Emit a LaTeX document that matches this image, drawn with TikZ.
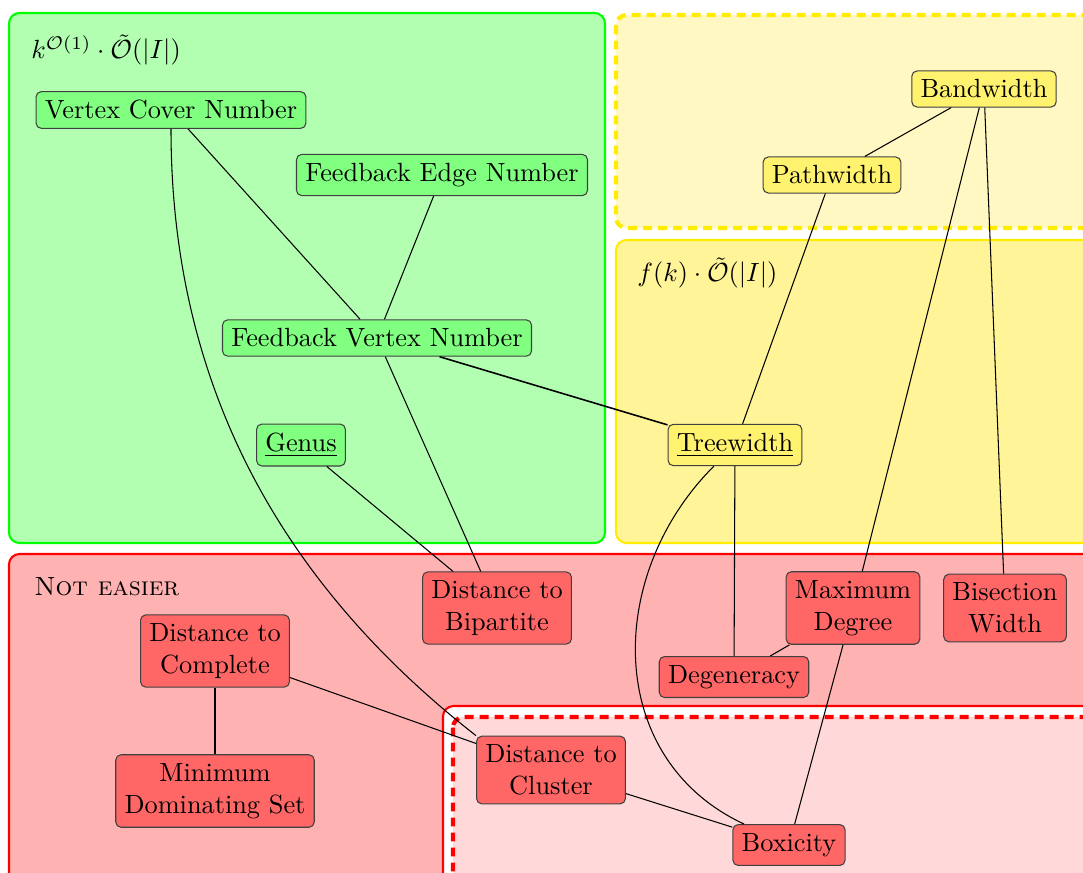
\documentclass[tikz,border=0pt]{standalone}
\usepackage{amsmath}
\usepackage{amssymb}
\usepackage{tikz}

\definecolor{ylwborder}{RGB}{255,236,0}
\definecolor{ylwfill}{RGB}{255,245,152}
\definecolor{ylwlight}{RGB}{255,248,194}
\definecolor{ylwnode}{RGB}{255,242,110}

\tikzset{
	param/.style = {draw=black!75, rounded corners=2pt, align=center},
	easy/.style = {param, fill=green!50},
	medium/.style = {param, fill=ylwnode},
	hard/.style = {param, fill=red!60},
	region/.style = {rounded corners=4pt, thick},
	dashregion/.style = {region, ultra thick, dash pattern=on 3.4pt off 2.3pt}
}

\begin{document}
\begin{tikzpicture}[x=0.38pt, y=-0.38pt]
	\clip (0,0) rectangle (1083,872);
	\draw[region, draw=green, fill=green!30] (9,13) rectangle (605,543);
	\draw[dashregion, draw=ylwborder, fill=ylwlight] (616,15) rectangle (1110,228);
	\draw[region, draw=ylwborder, fill=ylwfill] (616,240) rectangle (1110,543);
	\draw[region, draw=red, fill=red!30] (9,554) rectangle (1110,900);
	\draw[region, draw=red, fill=white] (443,706) rectangle (1110,900);
	\draw[dashregion, draw=red, fill=red!15] (453,717) rectangle (1110,900);

	\node[anchor=west] (lblpoly) at (22,50) {$k^{\mathcal{O}(1)} \cdot \tilde{\mathcal{O}}(|I|)$};
	\node[anchor=west] (lblfpt) at (628,273) {$f(k) \cdot \tilde{\mathcal{O}}(|I|)$};
	\node[anchor=west] (lblhard) at (25,587) {\textsc{Not easier}};

	\node[easy] (vcn) at (171,110) {Vertex Cover Number};
	\node[easy] (fen) at (442,175) {Feedback Edge Number};
	\node[easy] (fvn) at (377,338) {Feedback Vertex Number};
	\node[easy] (genus) at (301,445) {\underline{Genus}};
	\node[medium] (bw) at (984,89) {Bandwidth};
	\node[medium] (pw) at (832,175) {Pathwidth};
	\node[medium] (tw) at (735,445) {\underline{Treewidth}};
	\node[hard] (dbip) at (497,608) {Distance to\\Bipartite};
	\node[hard] (dcom) at (215,651) {Distance to\\Complete};
	\node[hard] (mds) at (215,791) {Minimum\\Dominating Set};
	\node[hard] (maxdeg) at (853,608) {Maximum\\Degree};
	\node[hard] (bisec) at (1005,608) {Bisection\\Width};
	\node[hard] (degen) at (734,677) {Degeneracy};
	\node[hard] (dclu) at (551,770) {Distance to\\Cluster};
	\node[hard] (boxi) at (789,845) {Boxicity};

	\draw (vcn) -- (fvn);
	\draw (fen) -- (fvn);
	\draw (vcn.south) to[out=-90, in=142, looseness=0.95] (dclu.north west);
	\draw[semithick] (fvn) -- (tw);
	\draw (fvn) -- (dbip);
	\draw (genus) -- (dbip);
	\draw (bw) -- (pw);
	\draw (pw) -- (tw);
	\draw (bw) -- (maxdeg);
	\draw (bw) -- (bisec);
	\draw (tw) -- (degen);
	\draw (tw) to[out=-135, in=155, looseness=1.1] (boxi);
	\draw (maxdeg) -- (degen);
	\draw (maxdeg) -- (boxi);
	\draw (dcom) -- (mds);
	\draw (dcom) -- (dclu);
	\draw (dclu) -- (boxi);
\end{tikzpicture}
\end{document}
